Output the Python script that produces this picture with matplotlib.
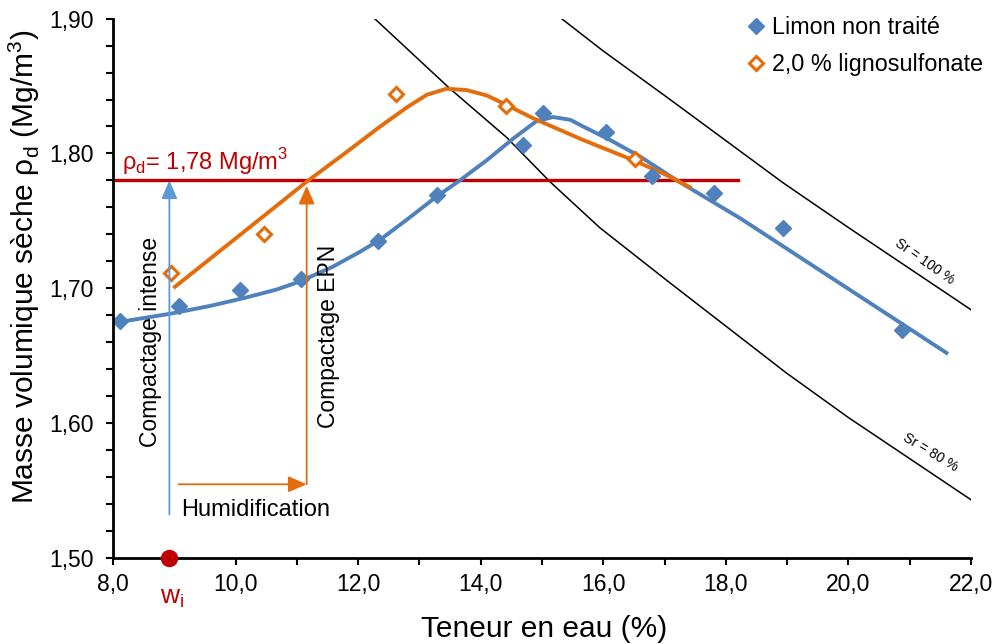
# Courbes Proctor : limon non traité vs 2,0 % lignosulfonate
import matplotlib.pyplot as plt

plt.rcParams['font.family'] = ['Liberation Sans', 'DejaVu Sans']
plt.rcParams['mathtext.fontset'] = 'custom'
plt.rcParams['mathtext.rm'] = 'Liberation Sans'

# Points mesurés
w_limon = [8.11, 9.08, 10.07, 11.07, 12.33, 13.29, 14.69, 15.02, 16.05, 16.80, 17.81, 18.94, 20.88]
rho_limon = [1.676, 1.687, 1.699, 1.707, 1.735, 1.769, 1.806, 1.830, 1.816, 1.783, 1.771, 1.745, 1.669]
w_ligno = [8.95, 10.46, 12.61, 14.41, 16.52]
rho_ligno = [1.711, 1.740, 1.844, 1.835, 1.796]

# Courbes lissées
w_fit_limon = [8.11, 8.93, 9.58, 10.13, 10.67, 11.05, 11.59, 12.03, 12.36, 12.79, 13.28, 13.66,
               14.10, 14.53, 14.91, 15.18, 15.46, 15.67, 16.11, 16.60, 17.20, 18.23, 21.60]
rho_fit_limon = [1.675, 1.681, 1.6868, 1.6926, 1.699, 1.705, 1.716, 1.727, 1.736, 1.7507, 1.768, 1.780,
                 1.795, 1.811, 1.824, 1.827, 1.825, 1.820, 1.810, 1.7977, 1.780, 1.752, 1.652]
w_fit_ligno = [9.01, 10.72, 11.13, 11.81, 12.36, 12.79, 13.12, 13.44, 13.77, 14.10, 14.42, 14.86,
               15.67, 16.49, 17.03, 17.41]
rho_fit_ligno = [1.701, 1.763, 1.778, 1.801, 1.820, 1.834, 1.8435, 1.848, 1.847, 1.843, 1.836, 1.826,
                 1.810, 1.795, 1.784, 1.775]

# Courbes de saturation
w_sr100 = [15.32, 16.0, 17.03, 18.94, 20.0, 22.0]
rho_sr100 = [1.900, 1.876, 1.842, 1.778, 1.745, 1.684]
w_sr80 = [12.27, 13.50, 14.42, 15.13, 15.94, 17.03, 18.99, 20.0, 22.0]
rho_sr80 = [1.900, 1.848, 1.812, 1.779, 1.745, 1.706, 1.637, 1.604, 1.543]

rho_cible = 1.78
w_cible_max = 18.19
w_i = 8.92
w_epn = 11.16
rho_humid = 1.5545

blue = '#4F81BD'
orange = '#E46C0A'
red = '#C00000'

fig = plt.figure(figsize=(10, 6.44), dpi=100)
ax = fig.add_axes([0.113, 0.134, 0.858, 0.837])

ax.plot(w_sr100, rho_sr100, color='black', lw=1.1)
ax.plot(w_sr80, rho_sr80, color='black', lw=1.1)
ax.plot([8.0, w_cible_max], [rho_cible, rho_cible], color=red, lw=2.4)

ax.plot(w_fit_limon, rho_fit_limon, color=blue, lw=2.8, solid_joinstyle='round')
ax.plot(w_fit_ligno, rho_fit_ligno, color=orange, lw=2.8, solid_joinstyle='round')
ax.plot(w_limon, rho_limon, 'D', color=blue, ms=8.5, ls='none', label='Limon non traité')
ax.plot(w_ligno, rho_ligno, 'D', mfc='white', mec=orange, mew=2.2, ms=7.5, ls='none',
        label='2,0 % lignosulfonate')

# Flèches
head = '-|>,head_length=0.8,head_width=0.35'
ax.annotate('', xy=(w_i, rho_cible), xytext=(w_i, 1.532),
            arrowprops=dict(arrowstyle=head, color='#5B9BD5', lw=1.3, mutation_scale=14,
                            shrinkA=0, shrinkB=0))
ax.annotate('', xy=(w_epn, rho_humid), xytext=(9.07, rho_humid),
            arrowprops=dict(arrowstyle=head, color=orange, lw=1.3, mutation_scale=14,
                            shrinkA=0, shrinkB=0))
ax.annotate('', xy=(w_epn, 1.776), xytext=(w_epn, rho_humid),
            arrowprops=dict(arrowstyle=head, color=orange, lw=1.3, mutation_scale=14,
                            shrinkA=0, shrinkB=0))

ax.text(8.62, 1.660, 'Compactage intense', rotation=90, ha='center', va='center', fontsize=16.5)
ax.text(11.52, 1.664, 'Compactage EPN', rotation=90, ha='center', va='center', fontsize=16.5)
ax.text(9.11, 1.5355, 'Humidification', ha='left', va='center', fontsize=17)
ax.text(8.15, 1.788, r'ρ$_\mathregular{d}$= 1,78 Mg/m$^\mathregular{3}$', color=red,
        ha='left', va='baseline', fontsize=17)
ax.text(21.25, 1.7195, 'Sr = 100 %', rotation=-35, ha='center', va='center', fontsize=10)
ax.text(21.33, 1.578, 'Sr = 80 %', rotation=-31, ha='center', va='center', fontsize=10)

ax.plot([w_i], [1.50], 'o', color=red, ms=11.5, clip_on=False, zorder=5)
ax.text(w_i + 0.05, 1.466, r'w$_\mathregular{i}$', color=red, ha='center', va='baseline', fontsize=19)

ax.set_xlim(8.0, 22.0)
ax.set_ylim(1.50, 1.90)
ax.set_xticks([8, 10, 12, 14, 16, 18, 20, 22])
ax.set_xticks(range(9, 22, 2), minor=True)
ax.set_xticklabels([f'{v:.1f}'.replace('.', ',') for v in range(8, 23, 2)])
ax.set_yticks([1.5, 1.6, 1.7, 1.8, 1.9])
ax.set_yticks([1.52, 1.54, 1.56, 1.58, 1.62, 1.64, 1.66, 1.68, 1.72, 1.74, 1.76, 1.78,
               1.82, 1.84, 1.86, 1.88], minor=True)
ax.set_yticklabels([f'{v:.2f}'.replace('.', ',') for v in [1.5, 1.6, 1.7, 1.8, 1.9]])
ax.tick_params(which='both', direction='out', length=5, width=1.5, labelsize=16.5)
ax.tick_params(axis='x', pad=6)
ax.tick_params(axis='y', pad=9)
for s in ['top', 'right']:
    ax.spines[s].set_visible(False)
for s in ['left', 'bottom']:
    ax.spines[s].set_linewidth(2)

ax.set_xlabel('Teneur en eau (%)', fontsize=21.5)
ax.set_ylabel(r'Masse volumique sèche ρ$_\mathregular{d}$ (Mg/m$^\mathregular{3}$)', fontsize=21.5)
ax.xaxis.set_label_coords(0.502, -0.106)
ax.yaxis.set_label_coords(-0.083, 0.54)

ax.legend(loc='upper left', bbox_to_anchor=(0.729, 1.008), bbox_transform=fig.transFigure,
          frameon=False, fontsize=16.8, handlelength=0.5, handletextpad=0.45, labelspacing=0.6)

plt.savefig('out.png', dpi=100)
